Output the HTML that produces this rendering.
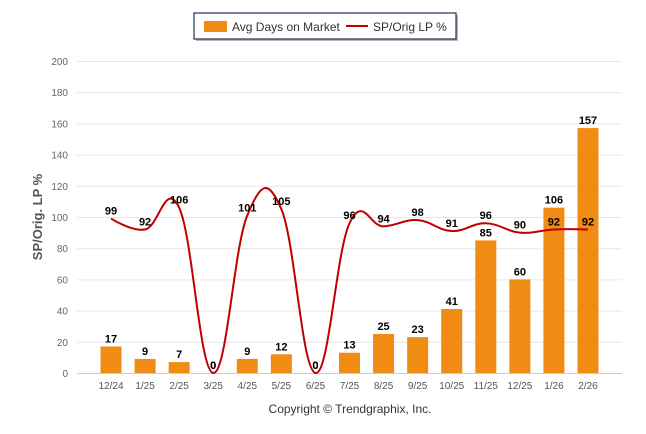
<!DOCTYPE html>
<html><head><meta charset="utf-8"><style>
body{margin:0;background:#fff;font-family:"Liberation Sans",Arial,sans-serif}
svg{display:block}
</style></head><body>
<svg id="c" width="646" height="434" xmlns="http://www.w3.org/2000/svg">
<g>
<rect x="196" y="15" width="262" height="26" fill="#444" opacity="0.4"/>
<rect x="194" y="13" width="262" height="26" fill="#fff" stroke="#1f3450" stroke-width="1.2"/>
<rect x="204" y="21" width="23" height="11" fill="#f08c14"/>
<text x="232" y="31" font-size="12" fill="#333">Avg Days on Market</text>
<line x1="346" y1="26" x2="368" y2="26" stroke="#c00000" stroke-width="2"/>
<text x="373" y="31" font-size="12" fill="#333">SP/Orig LP %</text>
</g>
<text transform="translate(42,217) rotate(-90)" text-anchor="middle" font-size="13" font-weight="bold" fill="#555">SP/Orig. LP %</text>
<text x="350" y="413" text-anchor="middle" font-size="12" fill="#333">Copyright © Trendgraphix, Inc.</text>
<g id="grid"></g><g id="bars"></g><g id="line"></g><g id="labels"></g>
</svg>
<script>
const categories=["12/24","1/25","2/25","3/25","4/25","5/25","6/25","7/25","8/25","9/25","10/25","11/25","12/25","1/26","2/26"];
const daysOnMarket=[17,9,7,0,9,12,0,13,25,23,41,85,60,106,157];
const spOrigLp=[99,92,106,0,101,105,0,96,94,98,91,96,90,92,92];
const yTicks=[0,20,40,60,80,100,120,140,160,180,200];
const NS="http://www.w3.org/2000/svg";
const y0=373,y1=61,left=77,right=622,first=111,step=(588-111)/14;
const yS=v=>y0-(v/200)*(y0-y1);
const xS=i=>first+i*step;
function mk(t,a,p){const e=document.createElementNS(NS,t);for(const k in a)e.setAttribute(k,a[k]);p.appendChild(e);return e;}
const grid=document.getElementById('grid'),bars=document.getElementById('bars'),line=document.getElementById('line'),labels=document.getElementById('labels');
yTicks.forEach(v=>{
 const l=mk('line',{x1:left,x2:right,y1:yS(v)+0.5,y2:yS(v)+0.5,stroke:v===0?'#ccc':'#e6e6e6'},grid);
 
 
 const t=mk('text',{x:68,y:yS(v)+4,'text-anchor':'end','font-size':'10',fill:'#666'},grid);t.textContent=v;
 
 
});
categories.forEach((c,i)=>{
 const t=mk('text',{x:xS(i),y:389,'text-anchor':'middle','font-size':'10',fill:'#555'},grid);t.textContent=c;
 
 
 const h=y0-yS(daysOnMarket[i]);
 const b=mk('rect',{x:xS(i)-10.5,y:yS(daysOnMarket[i]),width:21,height:h,fill:'#f08c14'},bars);
 
 
 const bl=mk('text',{x:xS(i),y:yS(daysOnMarket[i])-4,'text-anchor':'middle','font-size':'11','font-weight':'bold',fill:'#000'},labels);bl.textContent=daysOnMarket[i];
 
 
 const ll=mk('text',{x:xS(i),y:yS(spOrigLp[i])-4,'text-anchor':'middle','font-size':'11','font-weight':'bold',fill:'#000'},labels);ll.textContent=spOrigLp[i];
 
 
});
const pts=spOrigLp.map((v,i)=>({x:xS(i),y:yS(v)}));
pts.forEach((p,i)=>{
 const a=pts[i-1],n=pts[i+1];
 if(a&&n){
  const s=1.5,d=2.5;
  let lx=(s*p.x+a.x)/d,ly=(s*p.y+a.y)/d,rx=(s*p.x+n.x)/d,ry=(s*p.y+n.y)/d;
  const corr=((ry-ly)*(rx-p.x))/(rx-lx)+p.y-ry;ly+=corr;ry+=corr;
  p.lx=lx;p.ly=ly;p.rx=rx;p.ry=ry;
 }else{p.lx=p.x;p.ly=p.y;p.rx=p.x;p.ry=p.y;}
});
let d='M'+pts[0].x+' '+pts[0].y;
for(let i=1;i<pts.length;i++){const a=pts[i-1],p=pts[i];d+=` C${a.rx} ${a.ry} ${p.lx} ${p.ly} ${p.x} ${p.y}`;}
const path=mk('path',{d:d,fill:'none',stroke:'#c00000','stroke-width':2},line);


</script>
</body></html>
